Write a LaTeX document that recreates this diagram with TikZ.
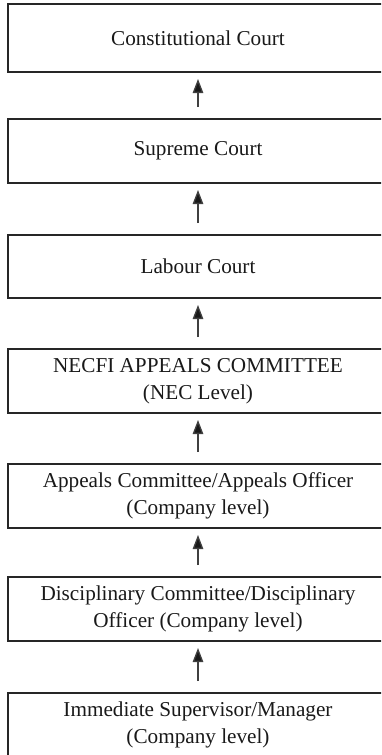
\documentclass[tikz,border=0pt]{standalone}
\usepackage{fontspec}
\setmainfont{Liberation Serif}
\usetikzlibrary{arrows.meta}
\begin{document}
\begin{tikzpicture}[x=1pt,y=1pt,
  box/.style={draw=black!85, line width=2pt, minimum width=380pt, minimum height=64pt,
    align=center, inner sep=0pt, font=\fontsize{21.2}{27.5}\selectfont, text=black!90},
  arr/.style={draw=black!75, line width=1.3pt, -{Triangle[length=14pt,width=10.5pt,fill=black!90]},
    shorten <=11pt, shorten >=6pt}]
\useasboundingbox (0,0) rectangle (381,-755);
\clip (0,0) rectangle (381,-755);
\node[box, minimum height=68pt] (b1) at (198,-38) {Constitutional Court};
\node[box] (b2) at (198,-151) {Supreme Court};
\node[box, minimum height=63pt] (b3) at (198,-266.5) {Labour Court};
\node[box] (b4) at (198,-381) {NECFI APPEALS COMMITTEE\\(NEC Level)};
\node[box] (b5) at (198,-496) {Appeals Committee/Appeals Officer\\(Company level)};
\node[box] (b6) at (198,-609) {Disciplinary Committee/Disciplinary\\Officer (Company level)};
\node[box] (b7) at (198,-725) {Immediate Supervisor/Manager\\(Company level)};
\draw[arr] (b2.north) -- (b1.south);
\draw[arr] (b3.north) -- (b2.south);
\draw[arr] (b4.north) -- (b3.south);
\draw[arr] (b5.north) -- (b4.south);
\draw[arr] (b6.north) -- (b5.south);
\draw[arr] (b7.north) -- (b6.south);
\end{tikzpicture}
\end{document}
